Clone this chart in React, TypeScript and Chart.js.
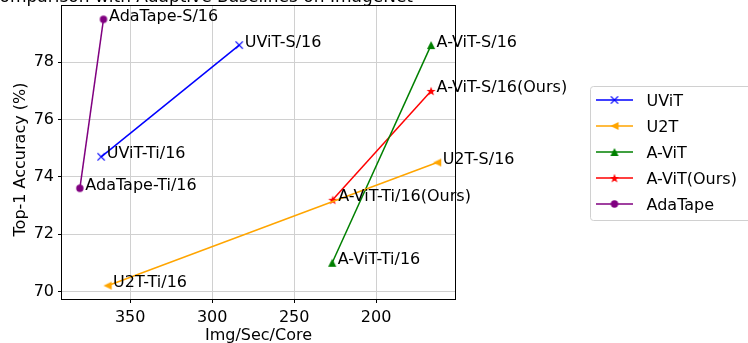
import React, { useEffect, useRef } from "react";
import { Chart, registerables } from "chart.js";
Chart.register(...registerables);

const FONT = '"DejaVu Sans", sans-serif';
const chartTitle = "Cost Comparison with Adaptive Baselines on ImageNet";
const xAxisTitle = "Img/Sec/Core";
const yAxisTitle = "Top-1 Accuracy (%)";

const seriesNames = ["UViT", "U2T", "A-ViT", "A-ViT(Ours)", "AdaTape"];
const seriesColors = ["#0000ff", "#ffa500", "#008000", "#ff0000", "#800080"];
const seriesMarkers = ["x", "<", "^", "*", "o"];

const uvitX = [367.7, 283.5];
const uvitY = [74.7, 78.6];
const uvitLabels = ["UViT-Ti/16", "UViT-S/16"];

const u2tX = [363.8, 162.8];
const u2tY = [70.2, 74.5];
const u2tLabels = ["U2T-Ti/16", "U2T-S/16"];

const avitX = [226.8, 166.5];
const avitY = [71.0, 78.6];
const avitLabels = ["A-ViT-Ti/16", "A-ViT-S/16"];

const oursX = [226.5, 166.5];
const oursY = [73.2, 77.0];
const oursLabels = ["A-ViT-Ti/16(Ours)", "A-ViT-S/16(Ours)"];

const adaX = [380.7, 366.3];
const adaY = [73.6, 79.5];
const adaLabels = ["AdaTape-Ti/16", "AdaTape-S/16"];

const xTicks = [200, 250, 300, 350];
const yTicks = [70, 72, 74, 76, 78];

const seriesX = [uvitX, u2tX, avitX, oursX, adaX];
const seriesY = [uvitY, u2tY, avitY, oursY, adaY];
const seriesLabels = [uvitLabels, u2tLabels, avitLabels, oursLabels, adaLabels];

function range(vals: number[]) {
  const lo = Math.min(...vals);
  const hi = Math.max(...vals);
  const m = (hi - lo) * 0.05;
  return [lo - m, hi + m];
}

function makeMarker(kind: string, color: string): HTMLCanvasElement {
  const s = 14;
  const c = document.createElement("canvas");
  c.width = s;
  c.height = s;
  const g = c.getContext("2d")!;
  const m = s / 2;
  g.fillStyle = color;
  g.strokeStyle = color;
  if (kind === "x") {
    const r = 3.6;
    g.lineWidth = 1.3;
    g.beginPath();
    g.moveTo(m - r, m - r);
    g.lineTo(m + r, m + r);
    g.moveTo(m - r, m + r);
    g.lineTo(m + r, m - r);
    g.stroke();
  } else if (kind === "o") {
    g.beginPath();
    g.arc(m, m, 3.7, 0, Math.PI * 2);
    g.fill();
  } else if (kind === "^") {
    const r = 4.1;
    g.beginPath();
    g.moveTo(m, m - r);
    g.lineTo(m - r, m + r);
    g.lineTo(m + r, m + r);
    g.closePath();
    g.fill();
  } else if (kind === "<") {
    const r = 4.1;
    g.beginPath();
    g.moveTo(m - r, m);
    g.lineTo(m + r, m - r);
    g.lineTo(m + r, m + r);
    g.closePath();
    g.fill();
  } else {
    const ro = 4.8;
    const ri = 2.0;
    g.beginPath();
    for (let k = 0; k < 10; k++) {
      const a = -Math.PI / 2 + (k * Math.PI) / 5;
      const r = k % 2 === 0 ? ro : ri;
      const px = m + r * Math.cos(a);
      const py = m + 0.5 + r * Math.sin(a);
      if (k === 0) g.moveTo(px, py);
      else g.lineTo(px, py);
    }
    g.closePath();
    g.fill();
  }
  return c;
}

export default function App() {
  const ref = useRef<HTMLCanvasElement | null>(null);

  useEffect(() => {
    const canvas = ref.current;
    if (!canvas) return;
    const markers = seriesMarkers.map((k, i) => makeMarker(k, seriesColors[i]));
    const [xMin, xMax] = range(seriesX.flat());
    const [yMin, yMax] = range(seriesY.flat());

    const datasets = seriesNames.map((name, i) => ({
      label: name,
      data: seriesX[i].map((x, j) => ({ x, y: seriesY[i][j] })),
      showLine: true,
      borderColor: seriesColors[i],
      backgroundColor: seriesColors[i],
      borderWidth: 1.5,
      pointStyle: markers[i],
      pointRadius: 4,
      pointHoverRadius: 4,
    }));

    const decor = {
      id: "decor",
      afterDatasetsDraw(chart: any) {
        const ctx = chart.ctx;
        ctx.save();
        ctx.font = `16px ${FONT}`;
        ctx.fillStyle = "#000";
        ctx.textBaseline = "alphabetic";
        ctx.textAlign = "left";
        chart.data.datasets.forEach((_ds: any, i: number) => {
          const meta = chart.getDatasetMeta(i);
          meta.data.forEach((pt: any, j: number) => {
            ctx.fillText(seriesLabels[i][j], pt.x + 5.5, pt.y + 1.5);
          });
        });
        ctx.restore();
      },
      afterDraw(chart: any) {
        const ctx = chart.ctx;
        const a = chart.chartArea;
        ctx.save();
        // frame
        ctx.strokeStyle = "#000";
        ctx.lineWidth = 1;
        ctx.strokeRect(Math.round(a.left) - 0.5, Math.round(a.top) - 0.5, Math.round(a.right - a.left) + 1, Math.round(a.bottom - a.top) + 1);
        // title (mostly clipped at top)
        ctx.fillStyle = "#000";
        ctx.font = `17px ${FONT}`;
        ctx.textAlign = "right";
        ctx.textBaseline = "alphabetic";
        ctx.fillText(chartTitle, 413, 2);
        // axis titles
        ctx.font = `16px ${FONT}`;
        ctx.textAlign = "center";
        ctx.fillText(xAxisTitle, (a.left + a.right) / 2, 340);
        ctx.save();
        ctx.translate(25, (a.top + a.bottom) / 2 + 7);
        ctx.rotate(-Math.PI / 2);
        ctx.fillText(yAxisTitle, 0, 0);
        ctx.restore();
        // legend
        const lx = 590.5, ly = 86.5;
        ctx.beginPath();
        if ((ctx as any).roundRect) (ctx as any).roundRect(lx, ly, 170, 134, 3);
        else ctx.rect(lx, ly, 170, 134);
        ctx.fillStyle = "rgba(255,255,255,0.8)";
        ctx.fill();
        ctx.strokeStyle = "#d0d0d0";
        ctx.lineWidth = 1;
        ctx.stroke();
        seriesNames.forEach((name, i) => {
          const y = 100 + i * 26;
          ctx.strokeStyle = seriesColors[i];
          ctx.lineWidth = 1.5;
          ctx.beginPath();
          ctx.moveTo(596, y);
          ctx.lineTo(633, y);
          ctx.stroke();
          const mk = markers[i];
          ctx.drawImage(mk, 614.5 - mk.width / 2, y - mk.height / 2);
          ctx.fillStyle = "#000";
          ctx.font = `16px ${FONT}`;
          ctx.textAlign = "left";
          ctx.textBaseline = "alphabetic";
          ctx.fillText(name, 646.5, y + 6);
        });
        ctx.restore();
      },
    };

    const chart = new Chart(canvas, {
      type: "scatter",
      data: { datasets },
      options: {
        animation: false,
        responsive: false,
        events: [],
        layout: { padding: { top: 6, right: 293, bottom: 0, left: 0 } },
        plugins: { legend: { display: false }, tooltip: { enabled: false }, title: { display: false } },
        scales: {
          x: {
            type: "linear",
            reverse: true,
            min: xMin,
            max: xMax,
            afterBuildTicks: (s: any) => {
              s.ticks = xTicks.map((v) => ({ value: v }));
            },
            afterFit: (s: any) => {
              s.height = 44;
              s.paddingLeft = 0;
              s.paddingRight = 0;
              s.paddingTop = 0;
              s.paddingBottom = 0;
            },
            ticks: { font: { family: FONT, size: 16 }, color: "#000", padding: 5, maxRotation: 0 },
            grid: { color: "#d0d0d0", lineWidth: 1, tickColor: "#000", tickLength: 4, drawTicks: true },
            border: { display: false },
          },
          y: {
            type: "linear",
            min: yMin,
            max: yMax,
            afterBuildTicks: (s: any) => {
              s.ticks = yTicks.map((v) => ({ value: v }));
            },
            afterFit: (s: any) => {
              s.width = 62;
              s.paddingLeft = 0;
              s.paddingRight = 0;
              s.paddingTop = 0;
              s.paddingBottom = 0;
            },
            ticks: { font: { family: FONT, size: 16 }, color: "#000", padding: 4 },
            grid: { color: "#d0d0d0", lineWidth: 1, tickColor: "#000", tickLength: 4, drawTicks: true },
            border: { display: false },
          },
        },
      },
      plugins: [decor],
    } as any);

    return () => chart.destroy();
  }, []);

  return (
    <div style={{ position: "absolute", left: 0, top: 0, width: 748, height: 343, background: "#fff" }}>
      <canvas ref={ref} width={748} height={343} style={{ display: "block", width: 748, height: 343 }} />
    </div>
  );
}
